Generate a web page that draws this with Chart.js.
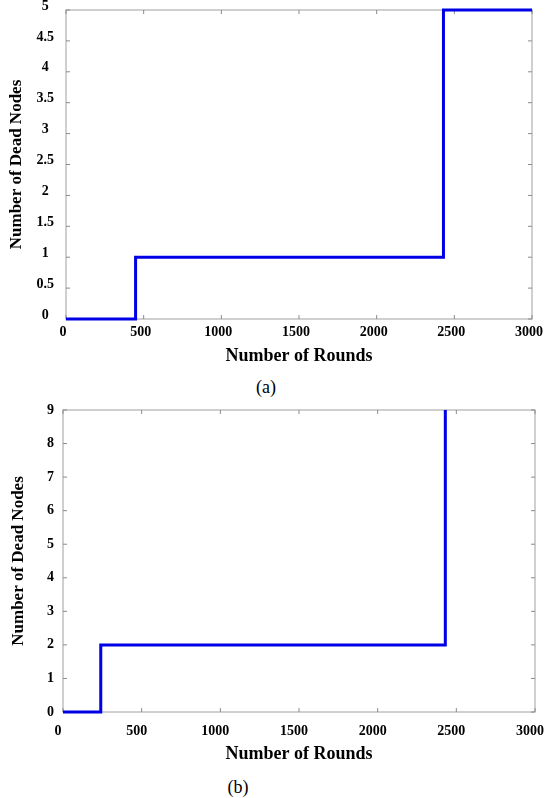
<!DOCTYPE html>
<html>
<head>
<meta charset="utf-8">
<script src="https://cdn.jsdelivr.net/npm/chart.js@4"></script>
<style>
  body { margin: 0; background: #fff; width: 546px; height: 798px; position: relative; overflow: hidden; }
  .box { position: absolute; left: 0; width: 546px; }
  .cap { position: absolute; font: 18px "Liberation Serif", "Times New Roman", serif; color: #000; width: 40px; text-align: center; line-height: 20px; }
</style>
</head>
<body>
<div class="box" style="top:0"><canvas id="chartA" width="546" height="371"></canvas></div>
<div class="cap" style="left:246px; top:377px">(a)</div>
<div class="box" style="top:400px"><canvas id="chartB" width="546" height="369"></canvas></div>
<div class="cap" style="left:218px; top:777px">(b)</div>
<script>
// Data
const roundTicks = [0, 500, 1000, 1500, 2000, 2500, 3000];

// (a)
const roundsA = [0, 448, 2430, 3000];
const deadA = [0, 1, 5, 5];
const deadTicksA = [0, 0.5, 1, 1.5, 2, 2.5, 3, 3.5, 4, 4.5, 5];

// (b)
const roundsB = [0, 240, 2430];
const deadB = [0, 2, 9];
const deadTicksB = [0, 1, 2, 3, 4, 5, 6, 7, 8, 9];

const serif = '"Liberation Serif", "Times New Roman", serif';
Chart.defaults.color = '#000';

// box round the plot with small inward tick marks on every side
const frame = {
  id: 'frame',
  beforeDatasetsDraw(chart) {
    const { ctx, chartArea: a, scales: { x, y } } = chart;
    ctx.save();
    ctx.strokeStyle = '#a0a0a0';
    ctx.lineWidth = 1;
    ctx.strokeRect(a.left, a.top, a.right - a.left, a.bottom - a.top);
    ctx.strokeStyle = '#8a8a8a';
    ctx.beginPath();
    x.ticks.forEach(t => {
      const px = x.getPixelForValue(t.value);
      ctx.moveTo(px, a.bottom); ctx.lineTo(px, a.bottom - 4);
      ctx.moveTo(px, a.top); ctx.lineTo(px, a.top + 4);
    });
    y.ticks.forEach(t => {
      const py = y.getPixelForValue(t.value);
      ctx.moveTo(a.left, py); ctx.lineTo(a.left + 4, py);
      ctx.moveTo(a.right, py); ctx.lineTo(a.right - 4, py);
    });
    ctx.stroke();
    ctx.restore();
  }
};

function makeChart(id, rounds, dead, yTicks, s) {
  return new Chart(document.getElementById(id), {
    type: 'line',
    data: {
      datasets: [{
        data: rounds.map((r, i) => ({ x: r, y: dead[i] })),
        stepped: 'before',
        borderColor: '#0000e6',
        borderWidth: 3,
        pointRadius: 0,
        fill: false,
        clip: 4
      }]
    },
    options: {
      responsive: false,
      animation: false,
      layout: { padding: { top: s.top, right: s.right, left: 0, bottom: 0 } },
      plugins: { legend: { display: false }, tooltip: { enabled: false } },
      scales: {
        x: {
          type: 'linear',
          min: 0,
          max: 3000,
          afterFit: sc => { sc.height = s.xHeight; sc.paddingLeft = 0; sc.paddingRight = 0; },
          afterBuildTicks: sc => { sc.ticks = roundTicks.map(v => ({ value: v })); },
          grid: { display: false },
          border: { display: false },
          ticks: { padding: s.xPad, maxRotation: 0, labelOffset: s.xOffset, font: { family: serif, weight: 'bold', size: 14 }, callback: v => String(v) },
          title: { display: true, text: 'Number of Rounds', padding: { top: 4, bottom: 4 }, font: { family: serif, weight: 'bold', size: 18 } }
        },
        y: {
          min: 0,
          max: yTicks[yTicks.length - 1],
          afterFit: sc => { sc.width = s.yWidth; sc.paddingTop = 0; sc.paddingBottom = 0; },
          afterBuildTicks: sc => { sc.ticks = yTicks.map(v => ({ value: v })); },
          grid: { display: false },
          border: { display: false },
          ticks: { padding: s.yPad, crossAlign: 'center', labelOffset: s.labelOffset, font: { family: serif, weight: 'bold', size: 14 }, callback: v => String(v) },
          title: { display: true, text: 'Number of Dead Nodes', padding: { top: s.titlePad, bottom: 2 }, font: { family: serif, weight: 'bold', size: 17 } }
        }
      }
    },
    plugins: [frame]
  });
}

makeChart('chartA', roundsA, deadA, deadTicksA, { top: 10, right: 14, xHeight: 52, yWidth: 66, xPad: -3, yPad: 4, labelOffset: -4, xOffset: -3, titlePad: 6 });
makeChart('chartB', roundsB, deadB, deadTicksB, { top: 10, right: 11, xHeight: 57, yWidth: 63, xPad: 3, yPad: 1, labelOffset: 0, xOffset: -5, titlePad: 8 });
</script>
</body>
</html>
